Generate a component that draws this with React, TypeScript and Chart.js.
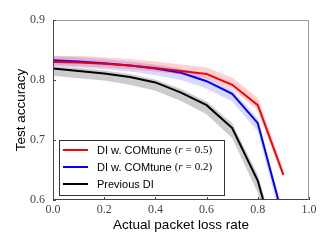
import React, { useEffect, useRef } from "react";
import { Chart, registerables } from "chart.js";

Chart.register(...registerables);

const lossRates = [0.0, 0.1, 0.2, 0.3, 0.4, 0.5, 0.6, 0.7, 0.8, 0.9];

const redMean = [0.830, 0.829, 0.827, 0.824, 0.820, 0.815, 0.810, 0.792, 0.758, 0.642];
const redHi = [0.840, 0.840, 0.838, 0.835, 0.831, 0.826, 0.821, 0.804, 0.770, 0.650];
const redLo = [0.824, 0.823, 0.821, 0.818, 0.814, 0.809, 0.803, 0.785, 0.750, 0.636];

const blueMean = [0.833, 0.831, 0.828, 0.824, 0.819, 0.812, 0.798, 0.777, 0.728, 0.568];
const blueHi = [0.840, 0.838, 0.835, 0.831, 0.826, 0.819, 0.805, 0.784, 0.736, 0.578];
const blueLo = [0.823, 0.821, 0.818, 0.814, 0.808, 0.800, 0.786, 0.764, 0.714, 0.552];

const blackMean = [0.819, 0.815, 0.811, 0.805, 0.796, 0.779, 0.758, 0.720, 0.632, 0.480];
const blackHi = [0.823, 0.820, 0.816, 0.810, 0.801, 0.785, 0.764, 0.728, 0.642, 0.495];
const blackLo = [0.807, 0.803, 0.799, 0.792, 0.782, 0.765, 0.743, 0.703, 0.612, 0.455];

const xTicks = [0.0, 0.2, 0.4, 0.6, 0.8, 1.0];
const yTicks = [0.6, 0.7, 0.8, 0.9];

const legendItems = [
  { color: "#ff0000", main: "DI w. COMtune ", r: "0.5" },
  { color: "#0000ff", main: "DI w. COMtune ", r: "0.2" },
  { color: "#000000", main: "Previous DI", r: null as string | null },
];

const pts = (ys: number[]) => lossRates.map((x, i) => ({ x, y: ys[i] }));

const band = (lo: number[], hi: number[], color: string, loIndex: number) => [
  { data: pts(lo), borderWidth: 0, pointRadius: 0, fill: false, borderColor: "transparent" },
  {
    data: pts(hi),
    borderWidth: 0,
    pointRadius: 0,
    borderColor: "transparent",
    backgroundColor: color,
    fill: { target: loIndex },
  },
];

const line = (ys: number[], color: string) => ({
  data: pts(ys),
  borderColor: color,
  borderWidth: 2,
  pointRadius: 0,
  fill: false,
  tension: 0,
});

const framePlugin = {
  id: "frameAndLegend",
  afterDraw(chart: any) {
    const { ctx, chartArea: a, scales } = chart;
    ctx.save();
    // frame
    ctx.lineWidth = 1;
    ctx.strokeStyle = "#999999";
    ctx.beginPath();
    ctx.moveTo(a.left + 0.5, a.top + 0.5);
    ctx.lineTo(a.right - 0.5, a.top + 0.5);
    ctx.lineTo(a.right - 0.5, a.bottom - 0.5);
    ctx.stroke();
    ctx.strokeStyle = "#444444";
    ctx.beginPath();
    ctx.moveTo(a.left + 0.5, a.top + 0.5);
    ctx.lineTo(a.left + 0.5, a.bottom - 0.5);
    ctx.lineTo(a.right - 0.5, a.bottom - 0.5);
    ctx.stroke();
    // inward ticks
    ctx.beginPath();
    xTicks.forEach((v) => {
      const px = Math.round(scales.x.getPixelForValue(v)) + 0.5;
      ctx.moveTo(px, a.bottom);
      ctx.lineTo(px, a.bottom - 3);
    });
    yTicks.forEach((v) => {
      const py = Math.round(scales.y.getPixelForValue(v)) + 0.5;
      ctx.moveTo(a.left, py);
      ctx.lineTo(a.left + 3, py);
    });
    ctx.stroke();

    // legend
    const bx = 59.5, by = 140.5, bw = 165, bh = 55;
    ctx.fillStyle = "#ffffff";
    ctx.fillRect(bx, by, bw, bh);
    ctx.strokeStyle = "#333333";
    ctx.strokeRect(bx, by, bw, bh);
    const rows = [150, 167, 184];
    legendItems.forEach((it, i) => {
      const y = rows[i];
      ctx.strokeStyle = it.color;
      ctx.lineWidth = 2;
      ctx.beginPath();
      ctx.moveTo(63, y);
      ctx.lineTo(88, y);
      ctx.stroke();
      ctx.fillStyle = "#000000";
      ctx.textBaseline = "middle";
      ctx.textAlign = "left";
      ctx.font = "11px 'Liberation Sans', Arial, sans-serif";
      let x = 97;
      ctx.fillText(it.main, x, y + 0.5);
      x += ctx.measureText(it.main).width;
      if (it.r) {
        ctx.font = "11px 'Liberation Serif', serif";
        ctx.fillText("(", x, y + 0.5);
        x += ctx.measureText("(").width;
        ctx.font = "italic 11px 'Liberation Serif', serif";
        ctx.fillText("r", x, y + 0.5);
        x += ctx.measureText("r").width + 3;
        ctx.font = "11px 'Liberation Serif', serif";
        ctx.fillText("=", x, y + 0.5);
        x += ctx.measureText("=").width + 3;
        ctx.fillText(it.r + ")", x, y + 0.5);
      }
    });
    ctx.restore();
  },
};

export default function App() {
  const ref = useRef<HTMLCanvasElement | null>(null);
  useEffect(() => {
    document.body.style.margin = "0";
    const canvas = ref.current!;
    const datasets: any[] = [
      ...band(redLo, redHi, "rgba(255,0,0,0.18)", 0),
      ...band(blueLo, blueHi, "rgba(0,0,255,0.15)", 2),
      ...band(blackLo, blackHi, "rgba(0,0,0,0.2)", 4),
      line(redMean, "#ff0000"),
      line(blueMean, "#0000ff"),
      line(blackMean, "#000000"),
    ];
    const chart = new Chart(canvas, {
      type: "line",
      data: { datasets },
      options: {
        animation: false,
        responsive: false,
        devicePixelRatio: 1,
        layout: { padding: { top: 20, right: 23, left: 0, bottom: 0 } },
        plugins: { legend: { display: false }, tooltip: { enabled: false } },
        scales: {
          x: {
            type: "linear",
            min: 0,
            max: 1,
            afterFit: (s: any) => { s.height = 49; },
            afterBuildTicks: (s: any) => { s.ticks = xTicks.map((v) => ({ value: v })); },
            grid: { display: false, drawTicks: false },
            border: { display: false },
            ticks: {
              padding: 3,
              color: "#444444",
              font: { family: "'Liberation Serif', serif", size: 12 },
              callback: (v: any) => Number(v).toFixed(1),
            },
            title: {
              display: true,
              text: "Actual packet loss rate",
              color: "#000000",
              font: { family: "'Liberation Sans', Arial, sans-serif", size: 13.5 },
              padding: { top: 0, bottom: 16 },
            },
          },
          y: {
            type: "linear",
            min: 0.6,
            max: 0.9,
            afterFit: (s: any) => { s.width = 53; },
            afterBuildTicks: (s: any) => { s.ticks = yTicks.map((v) => ({ value: v })); },
            grid: { display: false, drawTicks: false },
            border: { display: false },
            ticks: {
              padding: 8,
              color: "#444444",
              font: { family: "'Liberation Serif', serif", size: 12 },
              callback: (v: any) => Number(v).toFixed(1),
            },
            title: {
              display: true,
              text: "Test accuracy",
              color: "#000000",
              font: { family: "'Liberation Sans', Arial, sans-serif", size: 13.5 },
              padding: { top: 13, bottom: 0 },
            },
          },
        },
      },
      plugins: [framePlugin],
    });
    return () => chart.destroy();
  }, []);
  return (
    <div style={{ width: 332, height: 249 }}>
      <canvas ref={ref} width={332} height={249} />
    </div>
  );
}
